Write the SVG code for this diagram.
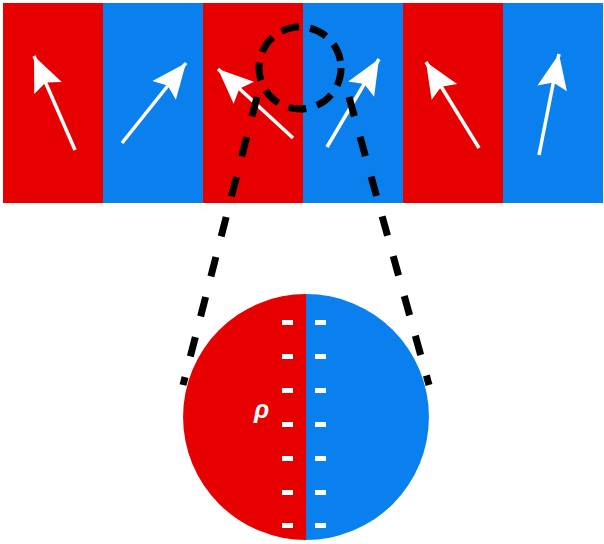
<svg xmlns="http://www.w3.org/2000/svg" width="604" height="544" viewBox="0 0 604 544">
<style>
.red{fill:#E60000}
.blue{fill:#0A80EE}
.arr{stroke:#fff;stroke-width:3.5;fill:none;marker-end:url(#head)}
.dash{stroke:#000;stroke-width:7;fill:none}
.ring{stroke-dasharray:18 11}
.ray{stroke-dasharray:20 21.3}
.tick{fill:#fff}
.lbl{font-family:"Liberation Sans",Arial,sans-serif;font-weight:bold;font-style:italic;font-size:25px;fill:#fff}
</style>
<defs>
<marker id="head" markerUnits="userSpaceOnUse" viewBox="-36 -16 38 32" refX="0" refY="0" markerWidth="38" markerHeight="32" orient="auto">
<path d="M0,0 L-35,-15 L-29,0 L-35,15 Z" fill="#fff"/>
</marker>
</defs>
<rect width="604" height="544" fill="#fff"/>
<g id="domains">
<rect class="red" x="3" y="3" width="100" height="200"/>
<rect class="blue" x="103" y="3" width="100" height="200"/>
<rect class="red" x="203" y="3" width="100" height="200"/>
<rect class="blue" x="303" y="3" width="100" height="200"/>
<rect class="red" x="403" y="3" width="100" height="200"/>
<rect class="blue" x="503" y="3" width="100" height="200"/>
</g>
<g id="spins">
<line class="arr" x1="75" y1="150" x2="34" y2="56"/>
<line class="arr" x1="122" y1="143" x2="186" y2="63"/>
<line class="arr" x1="293" y1="138" x2="218" y2="69"/>
<line class="arr" x1="327" y1="147" x2="379" y2="59"/>
<line class="arr" x1="479" y1="148" x2="426" y2="62"/>
<line class="arr" x1="539" y1="155" x2="559" y2="54"/>
</g>
<g id="zoom">
<circle class="dash ring" cx="300" cy="68" r="41"/>
<line class="dash ray" x1="257" y1="97" x2="183" y2="385"/>
<line class="dash ray" x1="349" y1="97" x2="429" y2="385"/>
</g>
<g id="wall">
<path class="red" d="M306,294 A123,123 0 0,0 306,540 Z"/>
<path class="blue" d="M306,294 A123,123 0 0,1 306,540 Z"/>
<g class="tick">
<rect x="282" y="320" width="11" height="5"/><rect x="315" y="320" width="11" height="5"/>
<rect x="282" y="354" width="11" height="5"/><rect x="315" y="354" width="11" height="5"/>
<rect x="282" y="388" width="11" height="5"/><rect x="315" y="388" width="11" height="5"/>
<rect x="282" y="422" width="11" height="5"/><rect x="315" y="422" width="11" height="5"/>
<rect x="282" y="456" width="11" height="5"/><rect x="315" y="456" width="11" height="5"/>
<rect x="282" y="490" width="11" height="5"/><rect x="315" y="490" width="11" height="5"/>
<rect x="282" y="523" width="11" height="5"/><rect x="315" y="523" width="11" height="5"/>
</g>
<text class="lbl" x="254" y="418">ρ</text>
</g>
</svg>
